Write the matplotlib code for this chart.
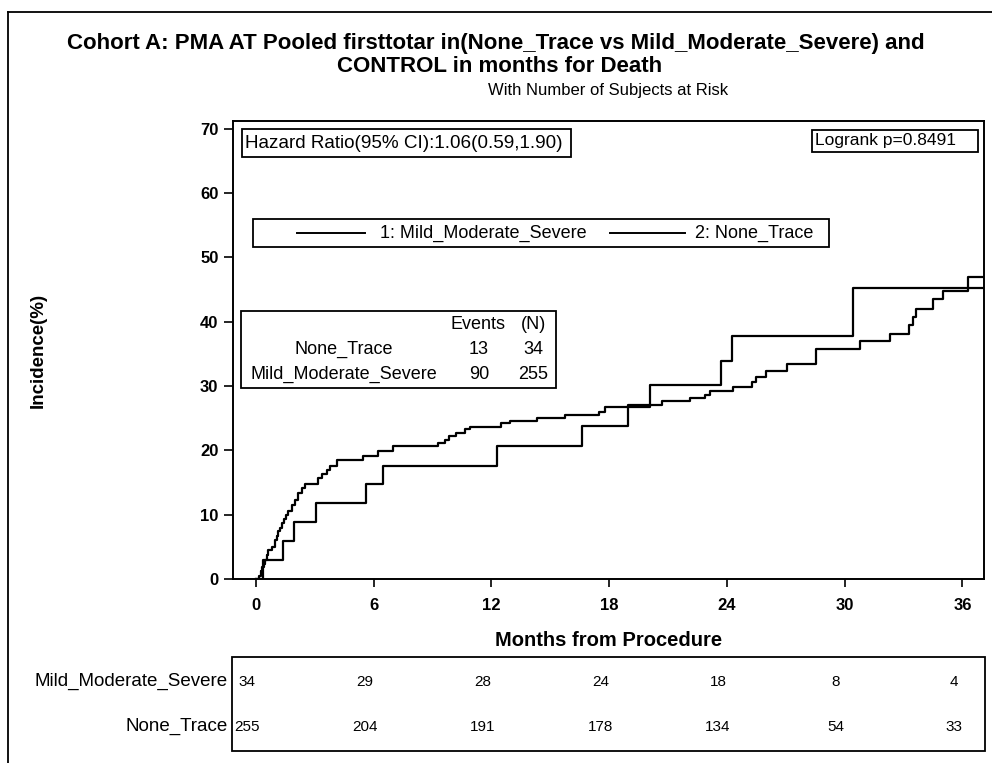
import matplotlib
matplotlib.use("Agg")
import matplotlib.pyplot as plt
import matplotlib.transforms as mtransforms
from matplotlib.patches import Rectangle
from matplotlib.lines import Line2D
import numpy as np

plt.rcParams['font.family'] = ['Liberation Sans', 'DejaVu Sans']

# Kaplan-Meier style cumulative incidence (%)
msv_months = [0, 0.37, 1.37, 1.95, 3.07, 5.59, 6.45, 12.3, 16.6, 18.97, 20.07,
              23.72, 24.27, 30.43]
msv_incidence = [0, 2.9, 5.9, 8.8, 11.8, 14.7, 17.6, 20.6, 23.8, 27.0, 30.2,
                 33.9, 37.7, 45.3]

nt_months = [0, 0.15, 0.25, 0.32, 0.4, 0.46, 0.55, 0.63, 0.8, 0.97,
             1.05, 1.14, 1.22, 1.31, 1.44, 1.55, 1.65, 1.82, 1.99, 2.12,
             2.33, 2.5, 3.17, 3.35, 3.6, 3.75, 4.11, 5.47, 6.23, 7.0,
             9.29, 9.63, 9.85, 10.2, 10.65, 10.9, 12.5, 12.94, 14.3, 15.74,
             17.5, 17.8, 20.07, 20.67, 22.1, 22.87, 23.13, 24.3, 25.3, 25.5,
             26.0, 27.05, 28.56, 30.77, 32.3, 33.3, 33.5, 33.65, 34.5, 35.0,
             36.3]
nt_incidence = [0, 0.4, 1.2, 1.9, 2.4, 2.95, 3.7, 4.5, 5.0, 6.0,
                6.7, 7.4, 8.0, 8.7, 9.4, 10.0, 10.5, 11.5, 12.3, 13.3,
                14.1, 14.8, 15.7, 16.4, 17.0, 17.6, 18.5, 19.1, 19.9, 20.6,
                21.2, 21.6, 22.3, 22.7, 23.3, 23.7, 24.2, 24.6, 25.1, 25.5,
                26.0, 26.8, 27.1, 27.6, 28.1, 28.6, 29.3, 29.9, 30.7, 31.4,
                32.3, 33.5, 35.7, 37.0, 38.1, 39.5, 40.7, 41.9, 43.5, 44.8,
                46.9]
followup_end = 37.1

# at-risk table
risk_months = [0, 6, 12, 18, 24, 30, 36]
risk_groups = ['Mild_Moderate_Severe', 'None_Trace']
risk_msv = [34, 29, 28, 24, 18, 8, 4]
risk_nt = [255, 204, 191, 178, 134, 54, 33]

# events table
event_groups = ['None_Trace', 'Mild_Moderate_Severe']
event_counts = [13, 90]
event_n = [34, 255]

W, H = 992, 763


def fx(x):
    return x / W


def fy(y):
    return 1 - y / H


def box(x0, y0, x1, y1, lw=1.3):
    fig.add_artist(Rectangle((fx(x0), fy(y1)), fx(x1) - fx(x0), fy(y0) - fy(y1),
                             transform=fig.transFigure, fill=True, fc='white',
                             ec='black', lw=lw, zorder=5))


fig = plt.figure(figsize=(W / 100, H / 100), dpi=100)
ax = fig.add_axes([fx(233), fy(579), fx(984) - fx(233), fy(121) - fy(579)])

for t, v in [(msv_months, msv_incidence), (nt_months, nt_incidence)]:
    ax.step(np.append(t, followup_end), np.append(v, v[-1]), where='post',
            color='black', lw=1.6)

ax.set_xlim(-1.17, followup_end)
ax.set_ylim(0, 71.2)
ax.set_xticks(risk_months)
ax.set_yticks(np.arange(0, 71, 10))
ax.tick_params(axis='x', direction='out', length=6, width=1.2, pad=8, labelsize=12)
ax.tick_params(axis='y', direction='out', length=6.5, width=1.2, pad=4, labelsize=12)
for lab in ax.get_xticklabels() + ax.get_yticklabels():
    lab.set_fontweight('bold')
for s in ax.spines.values():
    s.set_linewidth(1.4)
ax.set_xlabel('Months from Procedure', fontsize=14.5, fontweight='bold')
ax.xaxis.set_label_coords(fx(609), fy(641), transform=fig.transFigure)
ax.xaxis.label.set_verticalalignment('center')
ax.set_ylabel('Incidence(%)', fontsize=13.5, fontweight='bold')
ax.yaxis.set_label_coords(fx(38), fy(350), transform=fig.transFigure)
ax.yaxis.label.set_verticalalignment('center')

# titles
fig.text(fx(496), fy(44), 'Cohort A: PMA AT Pooled firsttotar in(None_Trace vs Mild_Moderate_Severe) and',
         ha='center', va='center', fontsize=16, fontweight='bold')
fig.text(fx(500), fy(67), 'CONTROL in months for Death',
         ha='center', va='center', fontsize=16, fontweight='bold')
fig.text(fx(608), fy(90), 'With Number of Subjects at Risk',
         ha='center', va='center', fontsize=12)

# outer frame (left and top)
fig.add_artist(Line2D([fx(8), fx(8)], [fy(12), 0], transform=fig.transFigure, color='black', lw=1.3))
fig.add_artist(Line2D([fx(8), 1], [fy(12), fy(12)], transform=fig.transFigure, color='black', lw=1.3))

# hazard ratio and logrank boxes
box(241.7, 129.3, 570.7, 156.7)
fig.text(fx(245), fy(143), 'Hazard Ratio(95% CI):1.06(0.59,1.90)', ha='left', va='center',
         fontsize=13.6, zorder=6)
box(811.7, 130.5, 978.3, 151.5)
fig.text(fx(815), fy(141), 'Logrank p=0.8491', ha='left', va='center', fontsize=12.5, zorder=6)

# legend
box(253.3, 219, 829.3, 246.7)
for x0, x1, tx, label in [(296.7, 365, 380, '1: Mild_Moderate_Severe'),
                          (610, 685, 695, '2: None_Trace')]:
    fig.add_artist(Line2D([fx(x0), fx(x1)], [fy(233), fy(233)], transform=fig.transFigure,
                          color='black', lw=1.4, zorder=6))
    fig.text(fx(tx), fy(233), label, ha='left', va='center', fontsize=13, zorder=6)

# events table
box(240.7, 311, 555.7, 387.7)
fig.text(fx(478), fy(324.3), 'Events', ha='center', va='center', fontsize=13, zorder=6)
fig.text(fx(533), fy(324.3), '(N)', ha='center', va='center', fontsize=13, zorder=6)
for i, (g, e, n) in enumerate(zip(event_groups, event_counts, event_n)):
    yy = fy(349.3 + 25 * i)
    fig.text(fx(344), yy, g, ha='center', va='center', fontsize=13, zorder=6)
    fig.text(fx(479), yy, str(e), ha='center', va='center', fontsize=13, zorder=6)
    fig.text(fx(533), yy, str(n), ha='center', va='center', fontsize=13, zorder=6)

# at-risk table
box(232, 656.7, 985, 750.7)
trans = mtransforms.blended_transform_factory(ax.transData, fig.transFigure)
for i, (g, counts) in enumerate(zip(risk_groups, [risk_msv, risk_nt])):
    yy = fy(681.7 + 45 * i)
    fig.text(fx(228), yy, g, ha='right', va='center', fontsize=13.5)
    for m, c in zip(risk_months, counts):
        fig.text(m - 0.45, yy, str(c), ha='center', va='center', fontsize=11,
                 transform=trans, zorder=6)

fig.savefig('out.png', dpi=100)
